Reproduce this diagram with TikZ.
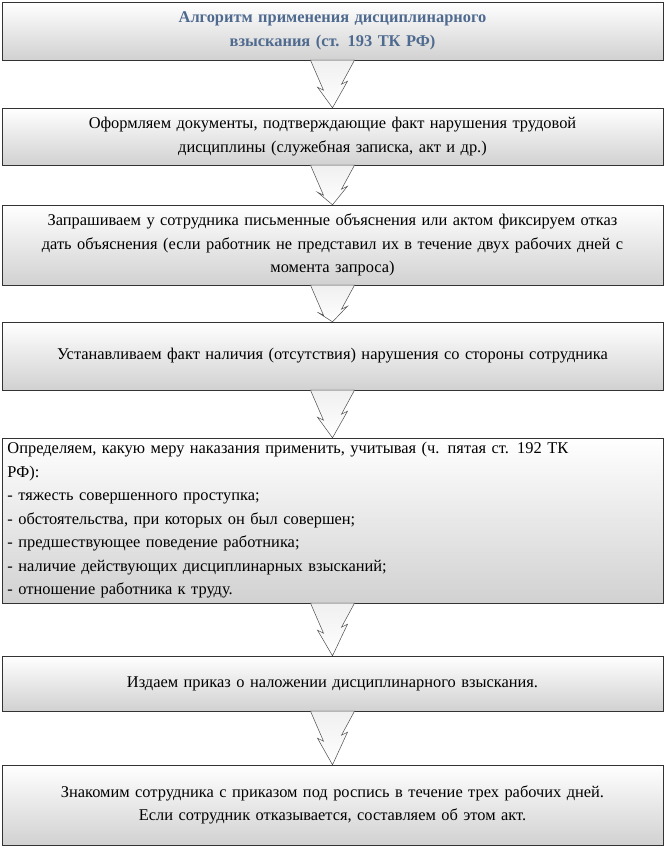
\documentclass[tikz,border=0pt]{standalone}
\usepackage{fontspec}
\setmainfont{Liberation Serif}
\usetikzlibrary{calc}
\definecolor{titleblue}{HTML}{4F6A8F}
\tikzset{
  stepbox/.style={draw=black!80,top color=white,bottom color=black!18,
    minimum width=661pt,text width=650pt,align=center,inner sep=3pt,
    font=\fontsize{16.4}{23.5}\selectfont},
  bolt/.style={draw=black!70,line width=0.5pt,top color=black!6,bottom color=white}
}
\newcommand\boltarrow[2]{%
  \draw[bolt] ($(#1.south)+(-22pt,0)$) -- ($(#1.south)+(-9pt,-30pt)$)
    -- ($(#1.south)+(-15pt,-27pt)$) -- (#2.north)
    -- ($(#1.south)+(15pt,-21pt)$) -- ($(#1.south)+(9pt,-24pt)$)
    -- ($(#1.south)+(22pt,0)$) -- cycle;}
\begin{document}
\begin{tikzpicture}[x=1pt,y=-1pt]
\useasboundingbox (0,0) rectangle (665,847);
\node[stepbox,minimum height=58pt,text=titleblue,font=\fontsize{16.4}{23.5}\bfseries] (title) at (332.5,31)
  {Алгоритм применения дисциплинарного\\взыскания (ст. 193 ТК РФ)};
\node[stepbox,minimum height=57pt] (docs) at (332.5,136.5)
  {Оформляем документы, подтверждающие факт нарушения трудовой\\дисциплины (служебная записка, акт и др.)};
\node[stepbox,minimum height=80pt] (expl) at (332.5,245)
  {Запрашиваем у сотрудника письменные объяснения или актом фиксируем отказ\\дать объяснения (если работник не представил их в течение двух рабочих дней с\\момента запроса)};
\node[stepbox,minimum height=68pt] (fact) at (332.5,356)
  {Устанавливаем факт наличия (отсутствия) нарушения со стороны сотрудника};
\node[stepbox,minimum height=165pt,align=left] (measure) at (332.5,520.5)
  {Определяем, какую меру наказания применить, учитывая (ч. пятая ст. 192 ТК\\РФ):\\
   - тяжесть совершенного проступка;\\
   - обстоятельства, при которых он был совершен;\\
   - предшествующее поведение работника;\\
   - наличие действующих дисциплинарных взысканий;\\
   - отношение работника к труду.};
\node[stepbox,minimum height=55pt] (order) at (332.5,683.5)
  {Издаем приказ о наложении дисциплинарного взыскания.};
\node[stepbox,minimum height=80pt] (sign) at (332.5,805)
  {Знакомим сотрудника с приказом под роспись в течение трех рабочих дней.\\Если сотрудник отказывается, составляем об этом акт.};
\foreach \a/\b in {title/docs,docs/expl,expl/fact,fact/measure,measure/order,order/sign}
  {\boltarrow{\a}{\b}}
\end{tikzpicture}
\end{document}
